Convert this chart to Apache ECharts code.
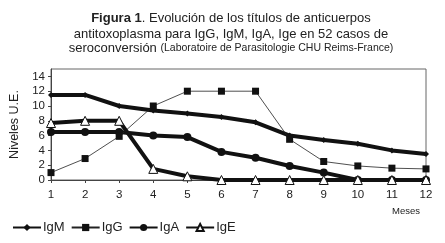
<!DOCTYPE html>
<html><head><meta charset="utf-8">
<script src="https://cdn.jsdelivr.net/npm/echarts@6/dist/echarts.min.js"></script>
<style>html,body{margin:0;padding:0;background:#fff}#c{width:445px;height:243px}</style>
</head><body><div id="c"></div>
<script>
const months = [1,2,3,4,5,6,7,8,9,10,11,12];
const igM = [11.5, 11.5, 10, 9.4, 9, 8.5, 7.8, 6, 5.4, 4.9, 4, 3.5];
const igG = [1, 2.9, 5.9, 10, 12, 12, 12, 5.5, 2.5, 1.9, 1.6, 1.5];
const igA = [6.5, 6.5, 6.5, 6, 5.8, 3.8, 3, 1.9, 1, 0, 0, 0];
const igE = [7.7, 8, 8, 1.5, 0.5, 0, 0, 0, 0, 0, 0, 0];
const yTicks = [0,2,4,6,8,10,12,14];

const pair = arr => months.map((m,i)=>[m, arr[i]]);
const ff = 'Liberation Sans, Arial, sans-serif';
const rich = {
  b:{fontFamily:ff,fontWeight:'bold',fontSize:13,color:'#222'},
  n:{fontFamily:ff,fontWeight:'normal',fontSize:13,color:'#222'},
  s:{fontFamily:ff,fontWeight:'normal',fontSize:10.5,color:'#222'}
};
const tl = (text, top) => ({left:231, textAlign:'center', top, text, padding:0, textStyle:{fontWeight:'normal',rich}});
const chart = echarts.init(document.getElementById('c'), null, {renderer:'canvas'});
chart.setOption({
  animation:false,
  textStyle:{fontFamily:ff,color:'#222'},
  title:[
    tl('{b|Figura 1}{n|. Evolución de los títulos de anticuerpos}', 12),
    tl('{n|antitoxoplasma para IgG, IgM, IgA, Ige en 52 casos de}', 28),
    tl('{n|seroconversión }{s|(Laboratoire de Parasitologie CHU Reims-France)}', 42)
  ],
  grid:{left:51,right:19,top:69,bottom:63,show:true,borderColor:'#666',borderWidth:1,containLabel:false},
  xAxis:{
    type:'value', min:1, max:12, interval:1,
    axisLine:{onZero:false,lineStyle:{color:'#444'}},
    axisTick:{show:true,length:3,inside:false,lineStyle:{color:'#444'}},
    splitLine:{show:false},
    axisLabel:{color:'#222',fontSize:11.5,fontFamily:ff,margin:9},
    name:'Meses', nameLocation:'end', nameGap:0,
    nameTextStyle:{fontSize:9.5,fontFamily:ff,color:'#222',align:'center',verticalAlign:'top',padding:[26,0,0,-40]}
  },
  yAxis:{
    type:'value', min:0, max:15, interval:2,
    axisLine:{show:true,lineStyle:{color:'#444'}},
    axisTick:{show:true,length:3,lineStyle:{color:'#444'},customValues:yTicks},
    axisLabel:{color:'#222',fontSize:11.5,fontFamily:ff,margin:6,customValues:yTicks},
    splitLine:{show:false},
    name:'Niveles U.E.', nameLocation:'middle', nameGap:26, nameRotate:90,
    nameTextStyle:{fontSize:12.5,fontFamily:ff,color:'#222'}
  },
  legend:{
    left:12, top:221, itemWidth:28, itemHeight:9, itemGap:6, padding:0,
    textStyle:{fontSize:13,fontFamily:ff,color:'#222',padding:[0,0,0,-3]},
    data:['IgM','IgG','IgA','IgE']
  },
  series:[
    {name:'IgM',type:'line',data:pair(igM),symbol:'diamond',symbolSize:6,
      lineStyle:{color:'#111',width:4},itemStyle:{color:'#111'},z:4},
    {name:'IgG',type:'line',data:pair(igG),symbol:'rect',symbolSize:7,
      lineStyle:{color:'#222',width:0.8},itemStyle:{color:'#111'},z:5},
    {name:'IgA',type:'line',data:pair(igA),symbol:'circle',symbolSize:8,
      lineStyle:{color:'#111',width:4},itemStyle:{color:'#111'},z:3},
    {name:'IgE',type:'line',data:pair(igE),symbol:'triangle',symbolSize:9,
      lineStyle:{color:'#111',width:4},itemStyle:{color:'#fff',borderColor:'#111',borderWidth:1},z:6}
  ]
});
</script></body></html>
